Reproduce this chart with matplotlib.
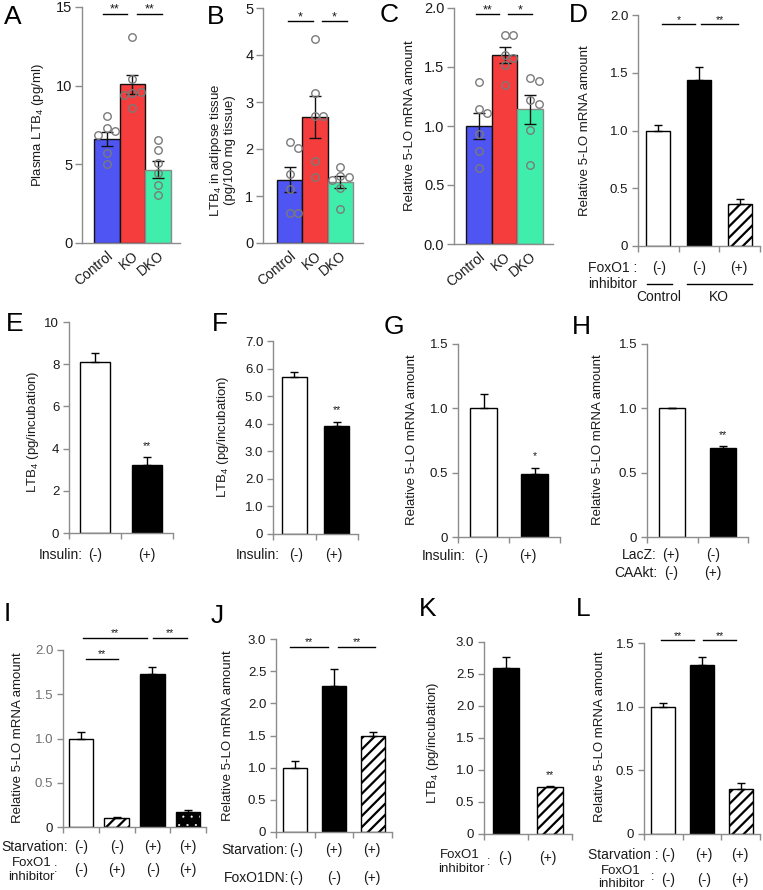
import numpy as np
import matplotlib
matplotlib.use('Agg')
import matplotlib.pyplot as plt
from matplotlib.lines import Line2D

plt.rcParams['font.family'] = ['Liberation Sans', 'DejaVu Sans']
plt.rcParams['mathtext.fontset'] = 'custom'
plt.rcParams['mathtext.rm'] = 'Liberation Sans'
plt.rcParams['mathtext.it'] = 'Liberation Sans:italic'
plt.rcParams['mathtext.default'] = 'regular'
plt.rcParams['hatch.linewidth'] = 1.6

# ---------------- data ----------------
groups_abc = ['Control', 'KO', 'DKO']
colors_abc = ['#4F55F2', '#F53D3D', '#3FEEAB']
edges_abc = ['#111111', '#111111', '#8a8a8a']

a_mean = [6.6, 10.1, 4.65]
a_sem = [0.45, 0.6, 0.55]
a_pts = [[8.05, 7.3, 7.1, 6.85, 5.7, 5.0],
         [13.1, 10.4, 9.55, 9.6, 9.4, 8.6],
         [6.54, 5.9, 5.06, 4.42, 3.68, 3.04]]

b_mean = [1.35, 2.68, 1.3]
b_sem = [0.27, 0.44, 0.13]
b_pts = [[2.14, 2.03, 1.47, 1.14, 0.64, 0.63],
         [4.35, 3.2, 2.7, 2.7, 1.74, 1.41],
         [1.62, 1.43, 1.41, 1.34, 1.16, 0.73]]

c_mean = [1.0, 1.6, 1.14]
c_sem = [0.11, 0.07, 0.12]
c_pts = [[1.37, 1.14, 1.11, 0.93, 0.79, 0.64],
         [1.77, 1.77, 1.6, 1.58, 1.52, 1.35],
         [1.41, 1.38, 1.22, 1.19, 0.97, 0.67]]

d_vals = [1.0, 1.44, 0.36]
d_err = [0.05, 0.11, 0.05]
e_vals = [8.1, 3.2]
e_err = [0.45, 0.4]
f_vals = [5.7, 3.9]
f_err = [0.18, 0.17]
g_vals = [1.0, 0.49]
g_err = [0.11, 0.05]
h_vals = [1.0, 0.69]
h_err = [0.006, 0.015]
i_vals = [1.0, 0.1, 1.73, 0.17]
i_err = [0.07, 0.012, 0.08, 0.025]
j_vals = [1.0, 2.27, 1.49]
j_err = [0.1, 0.26, 0.06]
k_vals = [2.6, 0.73]
k_err = [0.17, 0.015]
l_vals = [1.0, 1.33, 0.35]
l_err = [0.03, 0.06, 0.05]

W, H = 763, 890
fig = plt.figure(figsize=(W / 100, H / 100), dpi=100)
GREY = '#8c8c8c'
TXT = '#1a1a1a'


def add_ax(x0, x1, ytop, ybot):
    return fig.add_axes([x0 / W, 1 - ybot / H, (x1 - x0) / W, (ybot - ytop) / H])


def ftxt(x, y, s, **kw):
    kw.setdefault('color', TXT)
    fig.text(x / W, 1 - y / H, s, **kw)


def fline(x0, x1, y):
    fig.add_artist(Line2D([x0 / W, x1 / W], [1 - y / H, 1 - y / H],
                          color='black', lw=1.0, transform=fig.transFigure))


def swarm(ax, xc, vals, d):
    placed = []
    xs = []
    for v in vals:
        px, py = ax.transData.transform((xc, v))
        for k in [0, 1, -1, 2, -2, 3, -3]:
            cx = px + k * d
            if all((cx - qx) ** 2 + (py - qy) ** 2 >= (d * 0.95) ** 2 for qx, qy in placed):
                break
        placed.append((cx, py))
        xs.append(ax.transData.inverted().transform((cx, py))[0])
    return xs


def graphpad(box, xlim, ylim, yticks, fmt, means, sems, pts, sig):
    ax = add_ax(*box)
    ax.set_xlim(*xlim)
    ax.set_ylim(*ylim)
    x = np.arange(len(means))
    ax.bar(x, means, width=1.0, color=colors_abc, edgecolor=edges_abc, linewidth=1.0, zorder=2)
    ax.errorbar(x, means, yerr=sems, fmt='none', ecolor='#111111', elinewidth=1.0,
                capsize=4, capthick=1.0, zorder=4)
    for i, p in enumerate(pts):
        xs = swarm(ax, i, p, 8.5)
        ax.plot(xs, p, 'o', ms=5.4, mfc='none', mec='#7a7a7a', mew=1.0, zorder=5, clip_on=False)
    for (x0, x1, y, s) in sig:
        ax.plot([x0, x1], [y, y], color='black', lw=1.0, clip_on=False)
        ax.annotate(s, xy=((x0 + x1) / 2, y), xytext=(0, 0.5), textcoords='offset points',
                    ha='center', va='baseline', fontsize=9, color=TXT, annotation_clip=False)
    for sp in ['top', 'right']:
        ax.spines[sp].set_visible(False)
    for sp in ['left', 'bottom']:
        ax.spines[sp].set_color(GREY)
        ax.spines[sp].set_linewidth(1.0)
    ax.set_yticks(yticks)
    ax.set_yticklabels([fmt.format(t) for t in yticks])
    ax.tick_params(axis='y', direction='out', length=5, width=1.0, color=GREY,
                   labelsize=10.5, labelcolor=TXT, pad=2)
    ax.set_xticks(x)
    ax.set_xticklabels(groups_abc, rotation=40, ha='right', rotation_mode='anchor')
    ax.tick_params(axis='x', length=0, labelsize=10, labelcolor=TXT, pad=4)
    return ax


def excel(box, ylim, yticks, ylabels, vals, errs, styles, width, sig=(), star=None, tickcolor=TXT):
    ax = add_ax(*box)
    n = len(vals)
    ax.set_xlim(-0.5, n - 0.5)
    ax.set_ylim(*ylim)
    for i, (v, st) in enumerate(zip(vals, styles)):
        if st == 'white':
            ax.bar(i, v, width, color='white', edgecolor='black', lw=1.0, zorder=2)
        elif st == 'black':
            ax.bar(i, v, width, color='black', edgecolor='black', lw=1.0, zorder=2)
        elif st == 'hatch':
            ax.bar(i, v, width, color='white', edgecolor='black', hatch='///', lw=1.0, zorder=2)
        elif st == 'dots':
            with plt.rc_context({'hatch.linewidth': 0.3}):
                ax.bar(i, v, width, color='black', edgecolor='white', hatch='..', lw=0, zorder=2)
            ax.bar(i, v, width, fill=False, edgecolor='black', lw=1.0, zorder=3)
    ax.errorbar(np.arange(n), vals, yerr=[np.zeros(n), errs], fmt='none', ecolor='black',
                elinewidth=1.0, capsize=3.2, capthick=1.0, zorder=4)
    for (x0, x1, y, s) in sig:
        ax.plot([x0, x1], [y, y], color='black', lw=1.0, clip_on=False)
        ax.annotate(s, xy=((x0 + x1) / 2, y), xytext=(0, 1), textcoords='offset points',
                    ha='center', va='baseline', fontsize=7.5, color=TXT, annotation_clip=False)
    if star is not None:
        idx, s = star
        ax.annotate(s, xy=(idx, vals[idx] + errs[idx]), xytext=(0, 6), textcoords='offset points',
                    ha='center', va='baseline', fontsize=7.5, color=TXT, annotation_clip=False)
    for sp in ['top', 'right']:
        ax.spines[sp].set_visible(False)
    for sp in ['left', 'bottom']:
        ax.spines[sp].set_color(GREY)
        ax.spines[sp].set_linewidth(1.0)
    ax.set_yticks(yticks)
    ax.set_yticklabels(ylabels)
    ax.tick_params(axis='y', direction='out', length=4, width=1.0, color=GREY,
                   labelsize=9.5, labelcolor=tickcolor, pad=3)
    if tickcolor != TXT:
        ax.get_yticklabels()[0].set_color(TXT)
    ax.set_xticks(np.arange(n))
    ax.set_xticklabels([])
    ax.tick_params(axis='x', which='major', length=0)
    ax.set_xticks(np.arange(-0.5, n, 1.0), minor=True)
    ax.tick_params(axis='x', which='minor', direction='out', length=4, width=1.0, color=GREY)
    return ax


# ---------------- A, B, C ----------------
graphpad((82, 180, 7, 243), (-0.97, 2.87), (0, 15), [0, 5, 10, 15], '{:g}',
         a_mean, a_sem, a_pts, [(-0.15, 0.8, 14.58, '**'), (1.2, 2.15, 14.58, '**')])
graphpad((263, 363, 8, 243), (-1.05, 2.9), (0, 5), [0, 1, 2, 3, 4, 5], '{:g}',
         b_mean, b_sem, b_pts, [(-0.07, 0.92, 4.73, '*'), (1.28, 2.27, 4.73, '*')])
graphpad((454, 553, 8, 244), (-0.97, 2.89), (0, 2), [0, 0.5, 1.0, 1.5, 2.0], '{:.1f}',
         c_mean, c_sem, c_pts, [(-0.11, 0.78, 1.95, '**'), (1.13, 2.07, 1.95, '*')])

ftxt(38, 125, 'Plasma LTB$_4$ (pg/ml)', rotation=90, ha='center', va='center', fontsize=9.5)
ftxt(222, 150, 'LTB$_4$ in adipose tissue\n(pg/100 mg tissue)', rotation=90, ha='center',
     va='center', fontsize=9.5, multialignment='center', linespacing=1.1)
ftxt(410, 126, 'Relative 5-LO mRNA amount', rotation=90, ha='center', va='center', fontsize=9.5)

# ---------------- D ----------------
excel((638, 760, 15, 246), (0, 2), [0, 0.5, 1.0, 1.5, 2.0], ['0', '0.5', '1.0', '1.5', '2.0'],
      d_vals, d_err, ['white', 'black', 'hatch'], 0.59,
      sig=[(0.09, 0.9, 1.92, '*'), (1.05, 1.96, 1.92, '**')])
ftxt(585, 131, 'Relative 5-LO mRNA amount', rotation=90, ha='center', va='center', fontsize=9.5)
ftxt(637, 268, 'FoxO1 :', ha='right', va='center', fontsize=10)
ftxt(637, 284, 'inhibitor', ha='right', va='center', fontsize=10)
for xx, s in zip([659, 699, 739], ['(-)', '(-)', '(+)']):
    ftxt(xx, 268, s, ha='center', va='center', fontsize=10)
fline(647, 672, 284)
fline(687, 752, 284)
ftxt(659, 297, 'Control', ha='center', va='center', fontsize=10)
ftxt(719, 297, 'KO', ha='center', va='center', fontsize=10)

# ---------------- E, F, G, H ----------------
excel((69, 173, 322, 533), (0, 10), [0, 2, 4, 6, 8, 10], ['0', '2', '4', '6', '8', '10'],
      e_vals, e_err, ['white', 'black'], 0.56, star=(1, '**'))
ftxt(33, 432, 'LTB$_4$ (pg/incubation)', rotation=90, ha='center', va='center', fontsize=9.5)
ftxt(83, 555, 'Insulin:', ha='right', va='center', fontsize=10)
ftxt(95, 555, '(-)', ha='center', va='center', fontsize=10)
ftxt(147, 555, '(+)', ha='center', va='center', fontsize=10)

excel((273, 358, 341, 534), (0, 7), [0, 1, 2, 3, 4, 5, 6, 7],
      ['0', '1.0', '2.0', '3.0', '4.0', '5.0', '6.0', '7.0'],
      f_vals, f_err, ['white', 'black'], 0.59, star=(1, '**'))
ftxt(223, 437, 'LTB$_4$ (pg/incubation)', rotation=90, ha='center', va='center', fontsize=9.5)
ftxt(280, 555, 'Insulin:', ha='right', va='center', fontsize=10)
ftxt(296, 555, '(-)', ha='center', va='center', fontsize=10)
ftxt(334, 555, '(+)', ha='center', va='center', fontsize=10)

excel((458, 560, 344, 537), (0, 1.5), [0, 0.5, 1.0, 1.5], ['0', '0.5', '1.0', '1.5'],
      g_vals, g_err, ['white', 'black'], 0.53, star=(1, '*'))
ftxt(412, 440, 'Relative 5-LO mRNA amount', rotation=90, ha='center', va='center', fontsize=9.5)
ftxt(466, 556, 'Insulin:', ha='right', va='center', fontsize=10)
ftxt(481, 556, '(-)', ha='center', va='center', fontsize=10)
ftxt(528, 556, '(+)', ha='center', va='center', fontsize=10)

excel((647, 748, 344, 537), (0, 1.5), [0, 0.5, 1.0, 1.5], ['0', '0.5', '1.0', '1.5'],
      h_vals, h_err, ['white', 'black'], 0.51, star=(1, '**'))
ftxt(598, 440, 'Relative 5-LO mRNA amount', rotation=90, ha='center', va='center', fontsize=9.5)
ftxt(657, 555, 'LacZ:', ha='right', va='center', fontsize=10)
ftxt(671, 555, '(+)', ha='center', va='center', fontsize=10)
ftxt(713, 555, '(-)', ha='center', va='center', fontsize=10)
ftxt(657, 573, 'CAAkt:', ha='right', va='center', fontsize=10)
ftxt(671, 573, '(-)', ha='center', va='center', fontsize=10)
ftxt(713, 573, '(+)', ha='center', va='center', fontsize=10)

# ---------------- I, J, K, L ----------------
excel((63, 206, 650, 827), (0, 2), [0, 0.5, 1.0, 1.5, 2.0], ['0', '0.5', '1.0', '1.5', '2.0'],
      i_vals, i_err, ['white', 'hatch', 'black', 'dots'], 0.68,
      sig=[(0.14, 1.04, 1.9, '**'), (0.06, 1.85, 2.14, '**'), (2.02, 2.97, 2.14, '**')],
      tickcolor='#6f6f6f')
ftxt(18, 738, 'Relative 5-LO mRNA amount', rotation=90, ha='center', va='center', fontsize=9.5)
ftxt(68, 847, 'Starvation:', ha='right', va='center', fontsize=10)
ftxt(32, 863, 'FoxO1', ha='center', va='center', fontsize=9.5)
ftxt(31, 877, 'inhibitor', ha='center', va='center', fontsize=9.5)
ftxt(56, 869, ':', ha='center', va='center', fontsize=9)
for xx, s1, s2 in zip([81, 117, 153, 188], ['(-)', '(-)', '(+)', '(+)'], ['(-)', '(+)', '(-)', '(+)']):
    ftxt(xx, 847, s1, ha='center', va='center', fontsize=10)
    ftxt(xx, 870, s2, ha='center', va='center', fontsize=10)

excel((276, 392, 639, 832), (0, 3), [0, 0.5, 1.0, 1.5, 2.0, 2.5, 3.0],
      ['0', '0.5', '1.0', '1.5', '2.0', '2.5', '3.0'],
      j_vals, j_err, ['white', 'black', 'hatch'], 0.62,
      sig=[(-0.14, 0.85, 2.88, '**'), (1.11, 2.07, 2.88, '**')])
ftxt(228, 736, 'Relative 5-LO mRNA amount', rotation=90, ha='center', va='center', fontsize=9.5)
ftxt(288, 850, 'Starvation:', ha='right', va='center', fontsize=10)
ftxt(289, 878, 'FoxO1DN:', ha='right', va='center', fontsize=10)
for xx, s1, s2 in zip([296, 334, 372], ['(-)', '(+)', '(+)'], ['(-)', '(-)', '(+)']):
    ftxt(xx, 850, s1, ha='center', va='center', fontsize=10)
    ftxt(xx, 878, s2, ha='center', va='center', fontsize=10)

excel((484, 572, 642, 834), (0, 3), [0, 0.5, 1.0, 1.5, 2.0, 2.5, 3.0],
      ['0', '0.5', '1.0', '1.5', '2.0', '2.5', '3.0'],
      k_vals, k_err, ['black', 'hatch'], 0.57, star=(1, '**'))
ftxt(433, 743, 'LTB$_4$ (pg/incubation)', rotation=90, ha='center', va='center', fontsize=9.5)
ftxt(460, 855, 'FoxO1', ha='center', va='center', fontsize=9.5)
ftxt(461, 869, 'inhibitor', ha='center', va='center', fontsize=9.5)
ftxt(489, 862, ':', ha='center', va='center', fontsize=9)
ftxt(505, 858, '(-)', ha='center', va='center', fontsize=10)
ftxt(548, 858, '(+)', ha='center', va='center', fontsize=10)

excel((644, 760, 643, 834), (0, 1.5), [0, 0.5, 1.0, 1.5], ['0', '0.5', '1.0', '1.5'],
      l_vals, l_err, ['white', 'black', 'hatch'], 0.62,
      sig=[(-0.06, 0.79, 1.52, '**'), (1.03, 1.88, 1.52, '**')])
ftxt(600, 737, 'Relative 5-LO mRNA amount', rotation=90, ha='center', va='center', fontsize=9.5)
ftxt(659, 855, 'Starvation :', ha='right', va='center', fontsize=10)
ftxt(621, 871, 'FoxO1', ha='center', va='center', fontsize=9.5)
ftxt(621, 884, 'inhibitor', ha='center', va='center', fontsize=9.5)
ftxt(653, 877, ':', ha='center', va='center', fontsize=9)
for xx, s1, s2 in zip([668, 704, 740], ['(-)', '(+)', '(+)'], ['(-)', '(-)', '(+)']):
    ftxt(xx, 855, s1, ha='center', va='center', fontsize=10)
    ftxt(xx, 880, s2, ha='center', va='center', fontsize=10)

# ---------------- panel letters ----------------
for s, x, y in [('A', 4, 17), ('B', 207, 17), ('C', 380, 15), ('D', 569, 15),
                ('E', 6, 324), ('F', 212, 324), ('G', 384, 327), ('H', 572, 327),
                ('I', 4, 614), ('J', 211, 616), ('K', 419, 609), ('L', 576, 609)]:
    ftxt(x, y, s, ha='left', va='center', fontsize=19, color='black')

fig.savefig('out.png', dpi=100, facecolor='white')
